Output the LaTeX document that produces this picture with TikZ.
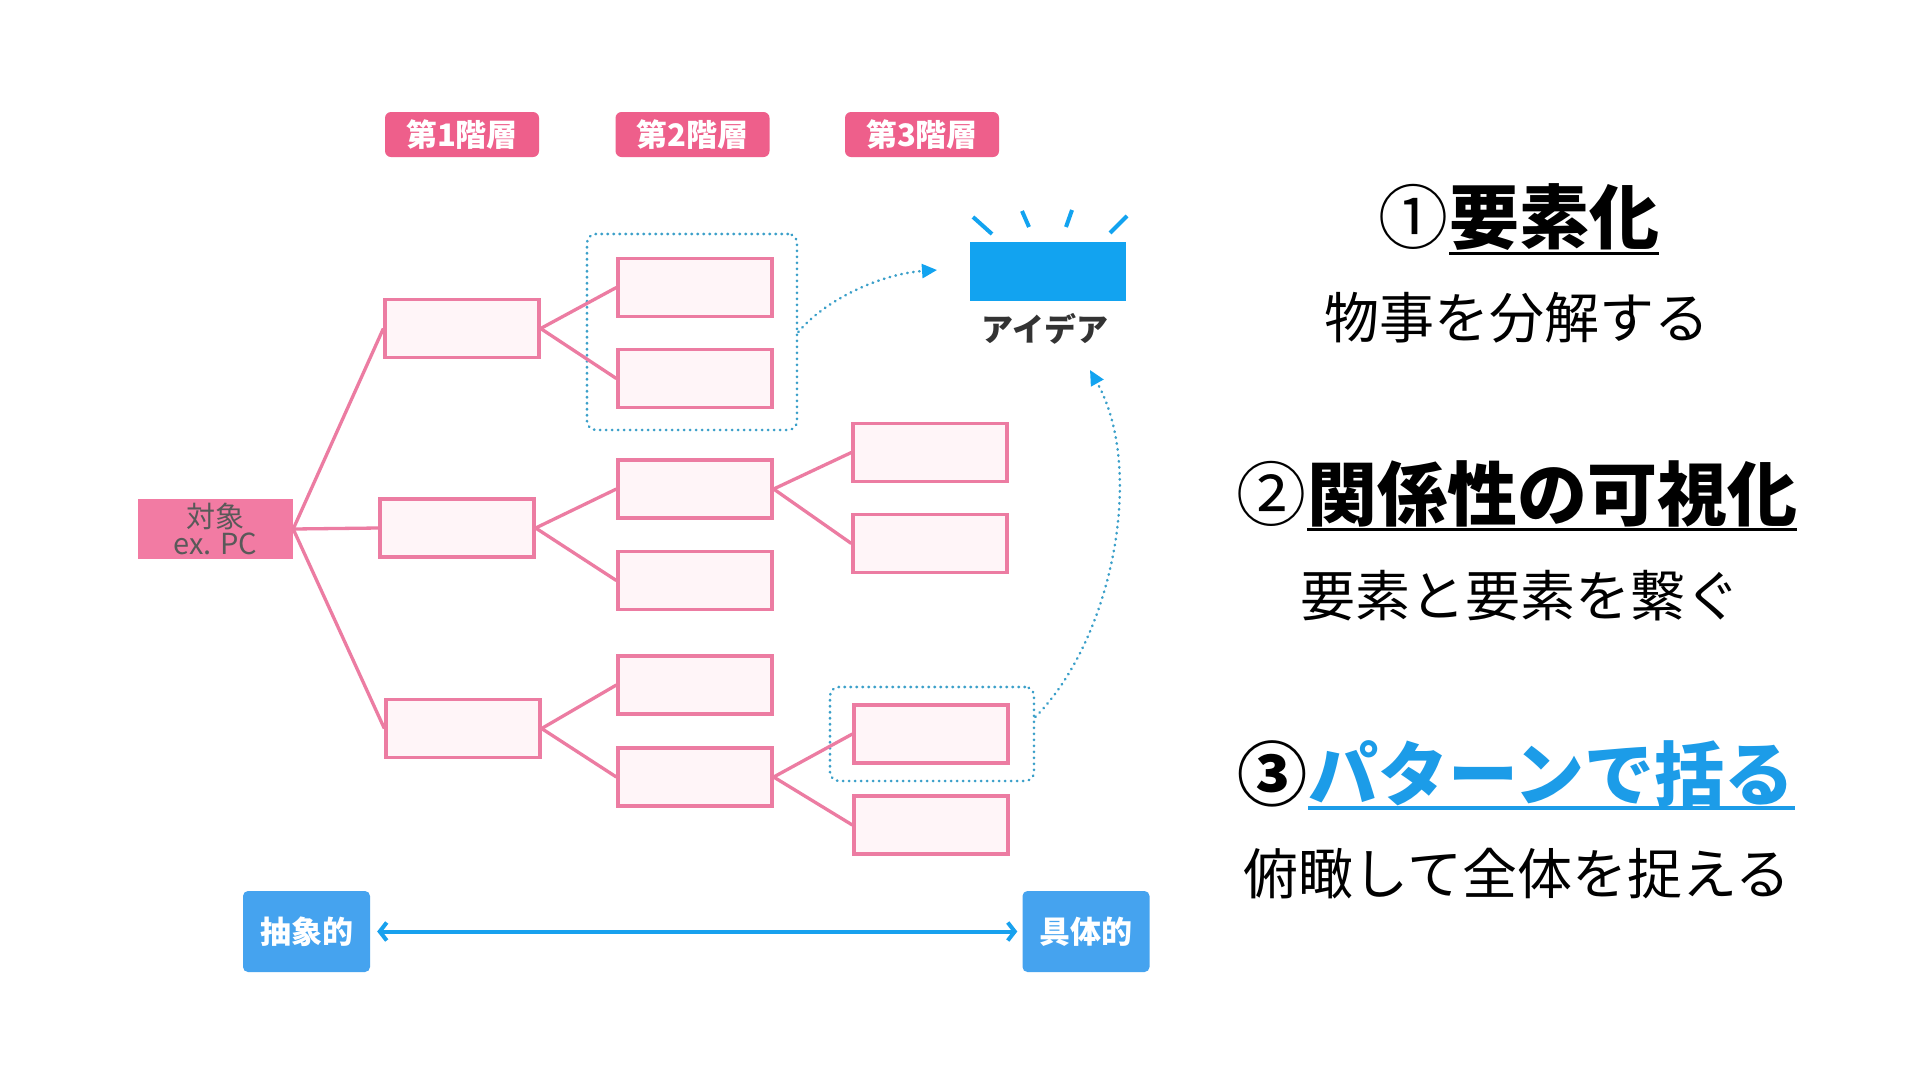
\documentclass[tikz,border=0pt]{standalone}
\usepackage{fontspec}
\newfontfamily\jp{Noto Sans CJK JP}
\usetikzlibrary{arrows.meta}
\definecolor{pinkline}{HTML}{EC7CA2}
\definecolor{pinkfill}{HTML}{FFF5F8}
\definecolor{lvlpink}{HTML}{EE5F8B}
\definecolor{rootpink}{HTML}{F27BA3}
\definecolor{dotblue}{HTML}{3A9FC9}
\definecolor{ideablue}{HTML}{12A3F0}
\definecolor{axisblue}{HTML}{45A3EF}
\definecolor{arrowblue}{HTML}{18A1EE}
\definecolor{headblue}{HTML}{1C9CE8}
\tikzset{
  pbox/.style={draw=pinkline, fill=pinkfill, line width=3.3pt, minimum width=154pt, minimum height=58pt, inner sep=0pt},
  lvl/.style={fill=lvlpink, rounded corners=6pt, minimum width=154pt, minimum height=45pt, inner sep=0pt, text=white, font=\jp\bfseries\fontsize{31}{31}\selectfont},
  conn/.style={draw=pinkline, line width=3.3pt},
  dotbox/.style={draw=dotblue, line width=2.6pt, dash pattern=on 0.5pt off 5.5pt, line cap=round, rounded corners=9pt, inner sep=0pt},
  dotarrow/.style={draw=dotblue, line width=2.6pt, dash pattern=on 0.5pt off 5.5pt, line cap=round, -{Triangle[length=15pt,width=14pt,color=ideablue]}},
  axisbox/.style={fill=axisblue, rounded corners=5pt, minimum width=127pt, minimum height=81pt, inner sep=0pt, text=white, font=\jp\bfseries\fontsize{31}{31}\selectfont},
  ray/.style={draw=ideablue, line width=4pt},
  headtxt/.style={inner sep=0pt, font=\jp\bfseries\fontsize{70}{70}\selectfont},
  headnum/.style={inner sep=0pt, font=\jp\fontsize{70}{70}\selectfont},
  subtxt/.style={inner sep=0pt, font=\jp\fontsize{55}{55}\selectfont},
}
\begin{document}
\begin{tikzpicture}[x=1pt,y=-1pt]
\useasboundingbox (0,0) rectangle (1920,1080);
\fill[white] (0,0) rectangle (1920,1080);

% level labels
\node[lvl] (lv1) at (462,134.5) {第1階層};
\node[lvl] (lv2) at (692.5,134.5) {第2階層};
\node[lvl] (lv3) at (922,134.5) {第3階層};

% dotted grouping boxes (behind)
\node[dotbox, minimum width=210pt, minimum height=196pt] (db1) at (692,332) {};
\node[dotbox, minimum width=204pt, minimum height=94pt] (db2) at (932,734) {};

% root
\node[fill=rootpink, minimum width=155pt, minimum height=60pt, inner sep=0pt, align=center, text=black!65, font=\jp\fontsize{29}{27}\selectfont] (root) at (215.5,529) {対象\\ex. PC};

% level 1
\node[pbox] (a) at (462,328.5) {};
\node[pbox] (b) at (457,528) {};
\node[pbox] (c) at (463,728.5) {};
% level 2
\node[pbox] (a1) at (695,287.5) {};
\node[pbox] (a2) at (695,378.5) {};
\node[pbox] (b1) at (695,489) {};
\node[pbox] (b2) at (695,580.5) {};
\node[pbox] (c1) at (695,685) {};
\node[pbox] (c2) at (695,777) {};
% level 3
\node[pbox] (b1a) at (930,452.5) {};
\node[pbox] (b1b) at (930,543.5) {};
\node[pbox] (c2a) at (931,734) {};
\node[pbox] (c2b) at (931,825) {};

% connectors
\draw[conn] (root.east) -- (a.west);
\draw[conn] (root.east) -- (b.west);
\draw[conn] (root.east) -- (c.west);
\draw[conn] (a.east) -- (a1.west);
\draw[conn] (a.east) -- (a2.west);
\draw[conn] (b.east) -- (b1.west);
\draw[conn] (b.east) -- (b2.west);
\draw[conn] (c.east) -- (c1.west);
\draw[conn] (c.east) -- (c2.west);
\draw[conn] (b1.east) -- (b1a.west);
\draw[conn] (b1.east) -- (b1b.west);
\draw[conn] (c2.east) -- (c2a.west);
\draw[conn] (c2.east) -- (c2b.west);

% idea
\node[fill=ideablue, minimum width=156pt, minimum height=59pt, inner sep=0pt] (idea) at (1048,271.5) {};
\node[inner sep=0pt, text=black!80, font=\jp\bfseries\fontsize{32}{32}\selectfont] (ideatxt) at (1045,329) {アイデア};
\draw[ray] (973,217) -- (992,234);
\draw[ray] (1022,211) -- (1029,227);
\draw[ray] (1072,210) -- (1066,227);
\draw[ray] (1127,216) -- (1110,233);

% dotted arrows
\coordinate (tip1) at (937,270);
\coordinate (tip2) at (1090,370);
\draw[dotarrow] (db1.east) .. controls (825,300) and (880,274) .. (tip1);
\draw[dotarrow] ([yshift=17pt]db2.east) .. controls (1112,640) and (1146,470) .. (tip2);

% axis
\node[axisbox] (abs) at (306.5,931.5) {抽象的};
\node[axisbox] (con) at (1086,931.5) {具体的};
\draw[draw=arrowblue, line width=4pt, {Straight Barb[length=7pt,width=18pt,line width=4pt]}-{Straight Barb[length=7pt,width=18pt,line width=4pt]}, shorten <=7pt, shorten >=5pt] (abs.east) -- (con.west);

% right text
\node[headtxt, anchor=base west] (h1t) at (1449,243) {要素化};
\node[headnum, anchor=base east] (h1n) at (h1t.base west) {①};
\draw[line width=3pt] ([yshift=-10pt]h1t.base west) -- ([yshift=-10pt]h1t.base east);
\node[subtxt, anchor=base] (s1) at (1517,338) {物事を分解する};

\node[headtxt, anchor=base west] (h2t) at (1307,520) {関係性の可視化};
\node[headnum, anchor=base east] (h2n) at (h2t.base west) {②};
\draw[line width=3pt] ([yshift=-9pt]h2t.base west) -- ([yshift=-9pt]h2t.base east);
\node[subtxt, anchor=base] (s2) at (1520,616) {要素と要素を繋ぐ};

\node[headtxt, anchor=base west, text=headblue] (h3t) at (1308,800) {パターンで括る};
\node[headtxt, anchor=base east] (h3n) at (h3t.base west) {③};
\draw[headblue, line width=4pt] ([yshift=-8pt]h3t.base west) -- ([yshift=-8pt]h3t.base east);
\node[subtxt, anchor=base] (s3) at (1517,894) {俯瞰して全体を捉える};
\end{tikzpicture}
\end{document}
